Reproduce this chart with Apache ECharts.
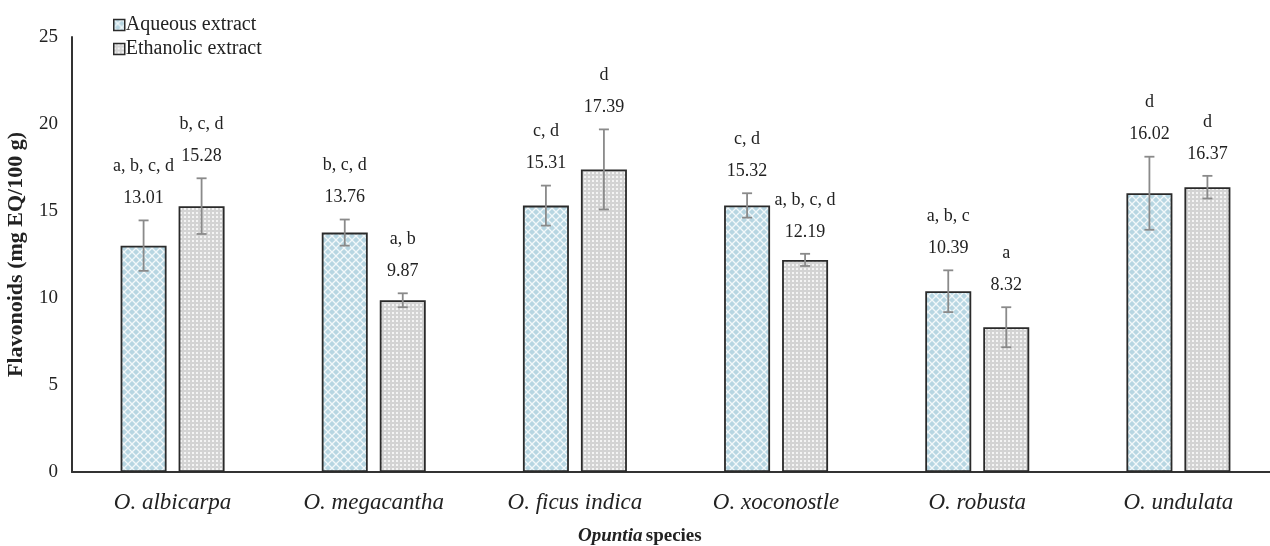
<!DOCTYPE html>
<html>
<head>
<meta charset="utf-8">
<script src="https://cdn.jsdelivr.net/npm/echarts@6/dist/echarts.min.js"></script>
<style>html,body{margin:0;padding:0;background:#fff}#c{width:1270px;height:546px}</style>
</head>
<body>
<div id="c"></div>
<script>
const categories = ['O. albicarpa', 'O. megacantha', 'O. ficus indica', 'O. xoconostle', 'O. robusta', 'O. undulata'];
const aqueous = [13.01, 13.76, 15.31, 15.32, 10.39, 16.02];
const aqueousErr = [1.45, 0.75, 1.15, 0.7, 1.2, 2.1];
const aqueousLetters = ['a, b, c, d', 'b, c, d', 'c, d', 'c, d', 'a, b, c', 'd'];
const ethanolic = [15.28, 9.87, 17.39, 12.19, 8.32, 16.37];
const ethanolicErr = [1.6, 0.4, 2.3, 0.35, 1.15, 0.65];
const ethanolicLetters = ['b, c, d', 'a, b', 'd', 'a, b, c, d', 'a', 'd'];
const yTicks = [0, 5, 10, 15, 20, 25];

const FONT = 'Liberation Serif';

function makePattern(kind) {
  const c = document.createElement('canvas');
  if (kind === 'aq') {
    c.width = 8; c.height = 8;
    const g = c.getContext('2d');
    g.fillStyle = '#b7d6e2'; g.fillRect(0, 0, 8, 8);
    g.strokeStyle = '#f2f8fa'; g.lineWidth = 1.3;
    g.beginPath();
    g.moveTo(0, 0); g.lineTo(8, 8);
    g.moveTo(8, 0); g.lineTo(0, 8);
    g.stroke();
  } else {
    c.width = 4; c.height = 4;
    const g = c.getContext('2d');
    g.fillStyle = '#d3d3d3'; g.fillRect(0, 0, 4, 4);
    g.fillStyle = '#f4f4f4'; g.fillRect(0, 0, 2, 2);
  }
  return { image: c, repeat: 'repeat' };
}
const aqFill = makePattern('aq');
const ethFill = makePattern('eth');

const BAR_W = 46, GAP = 12;
const OFFSET = (BAR_W + GAP) / 2;

function errSeries(name, vals, errs, letters, sign) {
  const data = vals.map((v, i) => [i, v, errs[i], letters[i]]);
  return {
    type: 'custom',
    name: name + ' err',
    silent: true,
    z: 5,
    data: data,
    encode: { x: 0, y: 1 },
    renderItem: function (params, api) {
      const i = api.value(0), v = api.value(1), e = api.value(2);
      const d = data[params.dataIndex];
      const top = api.coord([i, v + e]);
      const bot = api.coord([i, v - e]);
      const x = top[0] + sign * OFFSET;
      const cap = 5;
      const st = { stroke: '#8a8a8a', lineWidth: 1.8 };
      return {
        type: 'group',
        children: [
          { type: 'line', shape: { x1: x, y1: top[1], x2: x, y2: bot[1] }, style: st },
          { type: 'line', shape: { x1: x - cap, y1: top[1], x2: x + cap, y2: top[1] }, style: st },
          { type: 'line', shape: { x1: x - cap, y1: bot[1], x2: x + cap, y2: bot[1] }, style: st },
          { type: 'text', style: { x: x, y: top[1] - 22, text: v.toFixed(2), fontFamily: FONT, fontSize: 18, fill: '#222', align: 'center', verticalAlign: 'middle' } },
          { type: 'text', style: { x: x, y: top[1] - 54, text: d[3], fontFamily: FONT, fontSize: 18, fill: '#222', align: 'center', verticalAlign: 'middle' } }
        ]
      };
    }
  };
}

const chart = echarts.init(document.getElementById('c'), null, { renderer: 'canvas' });
chart.setOption({
  animation: false,
  backgroundColor: '#fff',
  grid: { left: 72, top: 37, width: 1207, bottom: 74, containLabel: false, outerBoundsMode: 'none' },
  legend: {
    orient: 'vertical', left: 108, top: 10, itemGap: 4,
    itemWidth: 11, itemHeight: 11, icon: 'rect',
    data: ['Aqueous extract', 'Ethanolic extract'],
    itemStyle: { borderColor: '#2a2a2a', borderWidth: 1.5 },
    textStyle: { fontFamily: FONT, fontSize: 20, color: '#222', padding: [0, 0, 0, -4] }
  },
  xAxis: {
    type: 'category', data: categories,
    axisLine: { lineStyle: { color: '#333', width: 2 } },
    axisTick: { show: false },
    axisLabel: { fontFamily: FONT, fontStyle: 'italic', fontSize: 23, color: '#222', margin: 19 }
  },
  yAxis: {
    type: 'value', min: 0, max: 25, interval: 5,
    name: 'Flavonoids (mg EQ/100 g)', nameLocation: 'middle', nameGap: 45,
    nameTextStyle: { fontFamily: FONT, fontSize: 22, fontWeight: 'bold', color: '#222' },
    axisLine: { show: true, lineStyle: { color: '#333', width: 2 } },
    axisTick: { show: false },
    splitLine: { show: false },
    axisLabel: { fontFamily: FONT, fontSize: 19, color: '#222', margin: 14,
      formatter: v => yTicks.includes(v) ? String(v) : '' }
  },
  graphic: [{
    type: 'text', left: 578, top: 527,
    style: {
      text: '{a|Opuntia} {b|species}',
      rich: {
        a: { fontFamily: FONT, fontSize: 19, fontWeight: 'bold', fontStyle: 'italic', fill: '#222' },
        b: { fontFamily: FONT, fontSize: 19, fontWeight: 'bold', fill: '#222' }
      }
    }
  }],
  series: [
    { type: 'bar', name: 'Aqueous extract', data: aqueous, barWidth: BAR_W, barGap: (GAP / BAR_W * 100) + '%',
      itemStyle: { color: aqFill, borderColor: '#2a2a2a', borderWidth: 1.8 } },
    { type: 'bar', name: 'Ethanolic extract', data: ethanolic, barWidth: BAR_W,
      itemStyle: { color: ethFill, borderColor: '#2a2a2a', borderWidth: 1.8 } },
    errSeries('Aqueous extract', aqueous, aqueousErr, aqueousLetters, -1),
    errSeries('Ethanolic extract', ethanolic, ethanolicErr, ethanolicLetters, 1)
  ]
});
</script>
</body>
</html>
